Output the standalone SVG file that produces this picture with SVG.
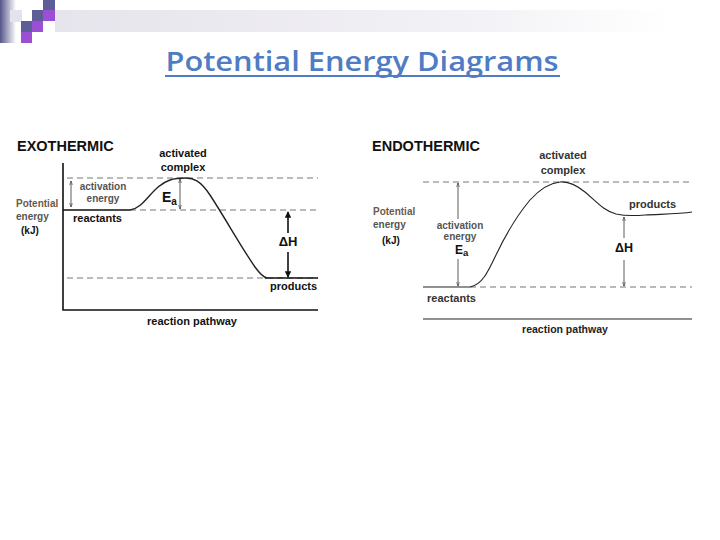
<svg xmlns="http://www.w3.org/2000/svg" width="720" height="540" viewBox="0 0 720 540">
<defs>
<linearGradient id="barL" x1="0" y1="0" x2="1" y2="0"><stop offset="0" stop-color="#55558a"/><stop offset="1" stop-color="#ffffff"/></linearGradient>
<linearGradient id="band" x1="0" y1="0" x2="1" y2="0"><stop offset="0" stop-color="#e6e4ec"/><stop offset="0.7" stop-color="#f3f2f6"/><stop offset="1" stop-color="#ffffff"/></linearGradient>
<marker id="ahB" viewBox="0 0 10 10" refX="9" refY="5" markerWidth="4" markerHeight="4" orient="auto-start-reverse"><path d="M0,0 L10,5 L0,10 z" fill="#111"/></marker>
<marker id="ahS" viewBox="0 0 10 10" refX="9" refY="5" markerWidth="6" markerHeight="6" orient="auto-start-reverse"><path d="M0,2 L10,5 L0,8" fill="none" stroke="#333" stroke-width="1.2"/></marker>
</defs>
<style>
.t{font-family:"Liberation Sans",Arial,sans-serif;font-weight:bold;fill:#111}
.h{font-size:14.5px}
.l{font-size:11px}
.s{font-family:"Liberation Sans",Arial,sans-serif;font-weight:bold;font-size:10px;fill:#555}
.g{fill:#6b5a4a}
.d{stroke:#666;stroke-width:0.9;stroke-dasharray:6,4;fill:none}
.ax{stroke:#111;stroke-width:1.6;fill:none}
.c{stroke:#222;stroke-width:1.4;fill:none}
.ar{stroke:#333;stroke-width:0.8;fill:none}
</style>
<rect width="720" height="540" fill="#ffffff"/>
<g id="decor">
<rect x="55" y="10" width="615" height="22" fill="url(#band)"/>
<rect x="0" y="0" width="16" height="43" fill="url(#barL)"/>
<rect x="10" y="10" width="12" height="12" fill="#e4e2ea"/>
<rect x="43" y="0" width="12" height="10" fill="#5f5d98"/>
<rect x="32" y="10" width="11" height="11" fill="#5f5d98"/>
<rect x="43" y="10" width="12" height="11" fill="#9a4fd4"/>
<rect x="21" y="21" width="11" height="11" fill="#5f5d98"/>
<rect x="32" y="21" width="11" height="11" fill="#9a4fd4"/>
<rect x="21" y="32" width="11" height="11" fill="#9a4fd4"/>
</g>
<g id="title">
<text x="362" y="71" text-anchor="middle" font-family="'Open Sans','Liberation Sans',sans-serif" font-weight="600" font-size="27" fill="#4f7cc4" textLength="393" lengthAdjust="spacingAndGlyphs">Potential Energy Diagrams</text>
<line x1="165" y1="76" x2="560" y2="76" stroke="#4f7cc4" stroke-width="2"/>
</g>
<g id="exothermic">
<text class="t h" x="17" y="151">EXOTHERMIC</text>
<g id="exo-axes">
<polyline class="ax" points="63,163 63,310 318,310"/>
</g>
<g id="exo-levels">
<line class="d" x1="67" y1="178" x2="318" y2="178"/>
<line class="d" x1="130" y1="210" x2="318" y2="210"/>
<line class="d" x1="67" y1="278" x2="318" y2="278"/>
<line class="ax" x1="63" y1="210" x2="130" y2="210"/>
<line class="ax" x1="265" y1="278" x2="318" y2="278"/>
</g>
<path class="c" d="M130,210 C145,208 152,186 170,180 C176,178 180,178 186,178 C193,178 200,180 210,195 C225,218 243,250 255,267 C260,274 263,277 267,278"/>
<g id="exo-labels">
<text class="s g" x="16" y="207">Potential</text>
<text class="s" x="16" y="220">energy</text>
<text class="t" font-size="10" x="21" y="234">(kJ)</text>
<text class="t l" x="73" y="222">reactants</text>
<text class="t l" x="183" y="157" text-anchor="middle">activated</text>
<text class="t l" x="183" y="171" text-anchor="middle">complex</text>
<text class="s" x="103" y="190" text-anchor="middle">activation</text>
<text class="s" x="103" y="202" text-anchor="middle">energy</text>
<text class="t" font-weight="normal" font-size="14" x="162" y="202">E<tspan font-size="10" dy="3" font-weight="bold">a</tspan></text>
<text class="t" font-size="13" x="288" y="246" text-anchor="middle">ΔH</text>
<text class="t l" x="270" y="290">products</text>
<text class="t l" x="192" y="325" text-anchor="middle">reaction pathway</text>
</g>
</g>
<g id="connectors">
<line class="ar" x1="71" y1="181" x2="71" y2="207" marker-start="url(#ahS)" marker-end="url(#ahS)"/>
<line class="ar" x1="180" y1="179" x2="180" y2="209" marker-start="url(#ahS)" marker-end="url(#ahS)"/>
<line x1="288" y1="233" x2="288" y2="212" stroke="#111" stroke-width="1.6" marker-end="url(#ahB)"/>
<line x1="288" y1="252" x2="288" y2="277" stroke="#111" stroke-width="1.6" marker-end="url(#ahB)"/>
<line class="ar" x1="458" y1="219" x2="458" y2="183" marker-end="url(#ahS)"/>
<line class="ar" x1="458" y1="259" x2="458" y2="286" marker-end="url(#ahS)"/>
<line class="ar" x1="624" y1="238" x2="624" y2="217" marker-end="url(#ahS)"/>
<line class="ar" x1="624" y1="260" x2="624" y2="286" marker-end="url(#ahS)"/>
</g>
<g id="endothermic">
<text class="t h" x="372" y="151">ENDOTHERMIC</text>
<g id="endo-axes">
<line x1="423" y1="319" x2="692" y2="319" stroke="#222" stroke-width="1.1"/>
</g>
<g id="endo-levels">
<line class="d" x1="423" y1="182" x2="692" y2="182" stroke="#888"/>
<line class="d" x1="470" y1="287" x2="692" y2="287"/>
<line x1="423" y1="287" x2="470" y2="287" stroke="#222" stroke-width="1.2"/>
</g>
<path d="M470,287 C482,285 488,272 496,255 C505,236 515,218 530,200 C540,189 550,183 560,182 C568,181 575,184 585,192 C596,201 604,211 616,214 C625,216 632,216 645,215 C665,214 680,214 692,212" fill="none" stroke="#222" stroke-width="1.1"/>
<g id="endo-labels">
<text class="s g" x="373" y="215">Potential</text>
<text class="s" x="373" y="228">energy</text>
<text class="t" font-size="10" x="382" y="244">(kJ)</text>
<text class="t l" x="427" y="302" style="fill:#333">reactants</text>
<text class="t l" x="563" y="159" text-anchor="middle" style="fill:#333">activated</text>
<text class="t l" x="563" y="174" text-anchor="middle" style="fill:#333">complex</text>
<text class="s" x="460" y="229" text-anchor="middle">activation</text>
<text class="s" x="460" y="240" text-anchor="middle">energy</text>
<text class="t" font-weight="normal" font-size="12" x="455" y="254">E<tspan font-size="9.5" dy="2" font-weight="bold">a</tspan></text>
<text class="t" font-size="12.5" x="624" y="252" text-anchor="middle">ΔH</text>
<text class="t l" x="629" y="208" style="fill:#333">products</text>
<text class="t" font-size="10.5" x="565" y="333" text-anchor="middle" style="fill:#222">reaction pathway</text>
</g>
</g>
</svg>
